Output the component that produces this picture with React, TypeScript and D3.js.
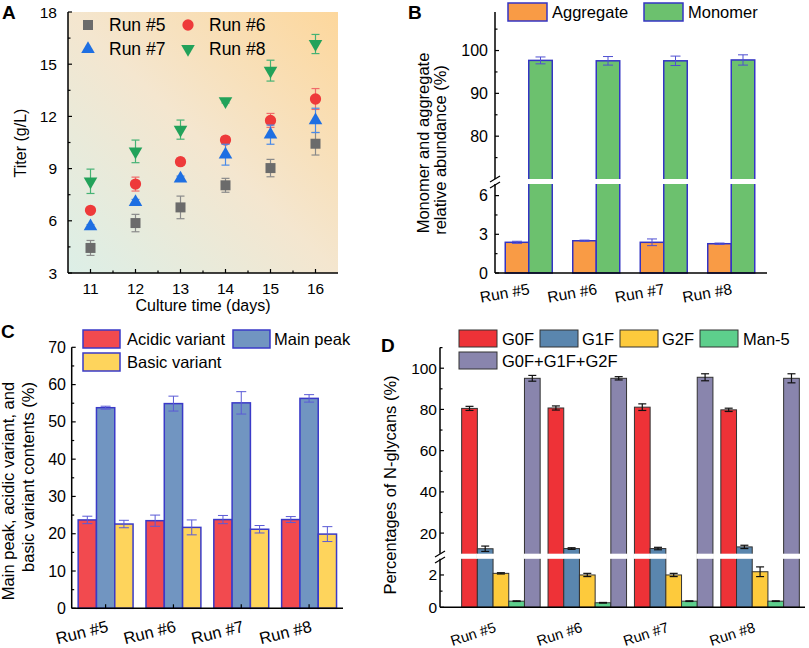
import React from 'react';
import * as d3 from 'd3';

// ---------- Panel A data ----------
const days = [11, 12, 13, 14, 15, 16];
const titerRun5 = [4.44, 5.87, 6.77, 8.04, 9.03, 10.43];
const titerRun5Err = [0.43, 0.5, 0.65, 0.4, 0.5, 0.65];
const titerRun6 = [6.6, 8.11, 9.4, 10.64, 11.77, 13.0];
const titerRun6Err = [0.1, 0.4, 0.2, 0.2, 0.4, 0.6];
const titerRun7 = [5.68, 7.08, 8.42, 9.8, 10.95, 11.77];
const titerRun7Err = [0.1, 0.15, 0.15, 0.6, 0.55, 0.7];
const titerRun8 = [8.27, 9.99, 11.24, 12.87, 14.63, 16.16];
const titerRun8Err = [0.7, 0.65, 0.55, 0.1, 0.6, 0.55];
const titerTicks = [3, 6, 9, 12, 15, 18];

// ---------- Panel B data ----------
const runs = ['Run #5', 'Run #6', 'Run #7', 'Run #8'];
const aggregate = [2.38, 2.5, 2.38, 2.27];
const aggregateErr = [0.08, 0.05, 0.26, 0.05];
const monomer = [97.7, 97.6, 97.6, 97.8];
const monomerErr = [0.8, 1.0, 1.1, 1.2];
const bUpperTicks = [80, 90, 100];
const bLowerTicks = [0, 3, 6];

// ---------- Panel C data ----------
const acidic = [23.7, 23.5, 23.8, 23.8];
const acidicErr = [1.0, 1.5, 1.1, 0.8];
const mainPeak = [53.8, 54.9, 55.1, 56.3];
const mainPeakErr = [0.4, 2.0, 3.0, 1.0];
const basic = [22.6, 21.7, 21.2, 19.9];
const basicErr = [1.0, 2.0, 1.0, 2.0];
const cTicks = [0, 10, 20, 30, 40, 50, 60, 70];

// ---------- Panel D data ----------
const g0f = [80.5, 80.7, 81.1, 79.8];
const g0fErr = [1.0, 1.0, 1.6, 0.8];
const g1f = [12.4, 12.5, 12.5, 13.3];
const g1fErr = [1.3, 0.4, 0.6, 0.8];
const g2f = [2.1, 2.0, 2.0, 2.2];
const g2fErr = [0.04, 0.1, 0.1, 0.3];
const man5 = [0.38, 0.28, 0.38, 0.38];
const man5Err = [0.02, 0.02, 0.02, 0.02];
const glycanSum = [95.1, 95.1, 95.6, 95.1];
const glycanSumErr = [1.4, 0.8, 1.7, 2.2];
const dUpperTicks = [20, 40, 60, 80, 100];
const dLowerTicks = [0, 2];

const FONT = "'Liberation Sans', Arial, Helvetica, sans-serif";

type EBProps = { x: number; yTop: number; yBot: number; w: number; color: string; sw?: number };
const ErrBar = ({ x, yTop, yBot, w, color, sw = 1 }: EBProps) => (
  <g stroke={color} strokeWidth={sw} fill="none">
    <line x1={x} x2={x} y1={yTop} y2={yBot} />
    <line x1={x - w / 2} x2={x + w / 2} y1={yTop} y2={yTop} />
    <line x1={x - w / 2} x2={x + w / 2} y1={yBot} y2={yBot} />
  </g>
);

// ================= PANEL A =================
function PanelA() {
  const x = d3.scaleLinear().domain([10.5, 16.5]).range([68, 338]);
  const y = d3.scaleLinear().domain([3, 18]).range([273, 12]);
  const series = [
    { name: 'Run #5', v: titerRun5, e: titerRun5Err, color: '#6b6b6b', ec: '#8a8a8a', sym: d3.symbolSquare, size: 100, rot: 0 },
    { name: 'Run #6', v: titerRun6, e: titerRun6Err, color: '#ee3a3a', ec: '#f06a6a', sym: d3.symbolCircle, size: 100, rot: 0 },
    { name: 'Run #7', v: titerRun7, e: titerRun7Err, color: '#1e6fe2', ec: '#4a8ae8', sym: d3.symbolTriangle, size: 80, rot: 0 },
    { name: 'Run #8', v: titerRun8, e: titerRun8Err, color: '#22a25a', ec: '#45b274', sym: d3.symbolTriangle, size: 80, rot: 180 },
  ];
  const minorY = d3.range(4.5, 18, 3);
  const minorX = d3.range(11.5, 16.5, 1);
  const legendPos = [
    [88, 25],
    [188, 25],
    [88, 49],
    [188, 49],
  ];
  return (
    <g>
      <defs>
        <linearGradient id="bgA" x1="0" y1="1" x2="1" y2="0">
          <stop offset="0" stopColor="#dcefe7" />
          <stop offset="0.5" stopColor="#f4e6cf" />
          <stop offset="1" stopColor="#fdd79c" />
        </linearGradient>
      </defs>
      <rect x={x(10.5)} y={y(18)} width={x(16.5) - x(10.5)} height={y(3) - y(18)} fill="url(#bgA)" />
      {/* axes */}
      <line x1={x(10.5)} x2={x(10.5)} y1={y(18)} y2={y(3)} stroke="#000" strokeWidth={1.5} />
      <line x1={x(10.5)} x2={x(16.5)} y1={y(3)} y2={y(3)} stroke="#000" strokeWidth={1.5} />
      {titerTicks.map((t) => (
        <g key={t}>
          <line x1={x(10.5)} x2={x(10.5) + 4} y1={y(t)} y2={y(t)} stroke="#000" strokeWidth={1.2} />
          <text x={57} y={y(t) + 5.5} textAnchor="end" fontSize={15.5} fontFamily={FONT}>{t}</text>
        </g>
      ))}
      {minorY.map((t) => (
        <line key={t} x1={x(10.5)} x2={x(10.5) + 2.5} y1={y(t)} y2={y(t)} stroke="#000" strokeWidth={1.2} />
      ))}
      {days.map((d) => (
        <g key={d}>
          <line x1={x(d)} x2={x(d)} y1={y(3)} y2={y(3) - 4} stroke="#000" strokeWidth={1.2} />
          <text x={x(d)} y={294} textAnchor="middle" fontSize={15.5} fontFamily={FONT}>{d}</text>
        </g>
      ))}
      {minorX.map((d) => (
        <line key={d} x1={x(d)} x2={x(d)} y1={y(3)} y2={y(3) - 2.5} stroke="#000" strokeWidth={1.2} />
      ))}
      <text x={203} y={311} textAnchor="middle" fontSize={16} fontFamily={FONT}>Culture time (days)</text>
      <text transform={`translate(26,143) rotate(-90)`} textAnchor="middle" fontSize={16} fontFamily={FONT}>Titer (g/L)</text>
      {/* data */}
      {series.map((s) => (
        <g key={s.name}>
          {days.map((d, i) => (
            <ErrBar key={d} x={x(d)} yTop={y(s.v[i] + s.e[i])} yBot={y(s.v[i] - s.e[i])} w={8} color={s.ec} sw={1.2} />
          ))}
          {days.map((d, i) => (
            <path key={d} d={d3.symbol().type(s.sym).size(s.size)() || ''} transform={`translate(${x(d)},${y(s.v[i])}) rotate(${s.rot})`} fill={s.color} />
          ))}
        </g>
      ))}
      {/* legend */}
      {series.map((s, i) => (
        <g key={s.name}>
          <path d={d3.symbol().type(s.sym).size(s.size)() || ''} transform={`translate(${legendPos[i][0]},${legendPos[i][1]}) rotate(${s.rot})`} fill={s.color} />
          <text x={legendPos[i][0] + 21} y={legendPos[i][1] + 6} fontSize={17.5} fontFamily={FONT}>{s.name}</text>
        </g>
      ))}
      <text x={2} y={19} fontSize={19} fontWeight="bold" fontFamily={FONT}>A</text>
    </g>
  );
}

// ================= PANEL B =================
function PanelB() {
  const left = 495;
  const bottom = 273;
  const x = d3.scaleBand<string>().domain(runs).range([495, 765]);
  const lower = d3.scaleLinear().domain([0, 6.9]).range([273, 184]);
  const upper = d3.scaleLinear().domain([70, 109]).range([179, 12]);
  const yv = (v: number) => (v <= 6.9 ? lower(v) : upper(v));
  const bw = 23.5;
  const stroke = '#3434c4';
  const ec = '#4f4fd2';
  const series = [
    { name: 'Aggregate', v: aggregate, e: aggregateErr, fill: '#f99b45', off: -bw },
    { name: 'Monomer', v: monomer, e: monomerErr, fill: '#6cc16e', off: 0 },
  ];
  return (
    <g>
      {series.map((s) => (
        <g key={s.name}>
          {runs.map((r, i) => {
            const cx = (x(r) as number) + x.bandwidth() / 2;
            const bx = cx + s.off;
            const top = yv(s.v[i]);
            return (
              <g key={r}>
                <rect x={bx} y={top} width={bw} height={bottom - top} fill={s.fill} stroke={stroke} strokeWidth={1.5} />
                {s.v[i] > 6.9 && <rect x={bx - 1.5} y={179} width={bw + 3} height={5} fill="#fff" />}
                <ErrBar x={bx + bw / 2} yTop={yv(s.v[i] + s.e[i])} yBot={yv(s.v[i] - s.e[i])} w={10} color={ec} sw={1} />
              </g>
            );
          })}
        </g>
      ))}
      {/* axes */}
      <line x1={left} x2={left} y1={12} y2={179} stroke="#000" strokeWidth={1.5} />
      <line x1={left} x2={left} y1={184} y2={bottom} stroke="#000" strokeWidth={1.5} />
      <line x1={490} x2={500} y1={182} y2={176} stroke="#000" strokeWidth={1.3} />
      <line x1={490} x2={500} y1={188} y2={182} stroke="#000" strokeWidth={1.3} />
      <line x1={left} x2={767} y1={bottom} y2={bottom} stroke="#000" strokeWidth={1.5} />
      {bUpperTicks.map((t) => (
        <g key={t}>
          <line x1={left} x2={left + 4} y1={upper(t)} y2={upper(t)} stroke="#000" strokeWidth={1.2} />
          <text x={488} y={upper(t) + 5.5} textAnchor="end" fontSize={16} fontFamily={FONT}>{t}</text>
        </g>
      ))}
      {[75, 85, 95, 105].map((t) => (
        <line key={t} x1={left} x2={left + 2.5} y1={upper(t)} y2={upper(t)} stroke="#000" strokeWidth={1.2} />
      ))}
      {bLowerTicks.map((t) => (
        <g key={t}>
          <line x1={left} x2={left + 4} y1={lower(t)} y2={lower(t)} stroke="#000" strokeWidth={1.2} />
          <text x={488} y={lower(t) + 5.5} textAnchor="end" fontSize={16} fontFamily={FONT}>{t}</text>
        </g>
      ))}
      {[1.5, 4.5].map((t) => (
        <line key={t} x1={left} x2={left + 2.5} y1={lower(t)} y2={lower(t)} stroke="#000" strokeWidth={1.2} />
      ))}
      {runs.map((r) => {
        const cx = (x(r) as number) + x.bandwidth() / 2;
        return (
          <text key={r} transform={`translate(${cx + 1.5},${294}) rotate(-10)`} textAnchor="end" fontSize={15.5} fontFamily={FONT}>{r}</text>
        );
      })}
      <text transform={`translate(429,143) rotate(-90)`} textAnchor="middle" fontSize={16.5} fontFamily={FONT}>Monomer and aggregate</text>
      <text transform={`translate(446,150) rotate(-90)`} textAnchor="middle" fontSize={16.5} fontFamily={FONT}>relative abundance (%)</text>
      {/* legend */}
      <rect x={508} y={3} width={39} height={18} fill="#f99b45" stroke={stroke} strokeWidth={1.5} />
      <text x={552} y={18} fontSize={16.5} fontFamily={FONT}>Aggregate</text>
      <rect x={644} y={3} width={39} height={18} fill="#6cc16e" stroke={stroke} strokeWidth={1.5} />
      <text x={688} y={18} fontSize={16.5} fontFamily={FONT}>Monomer</text>
      <text x={408} y={19} fontSize={19} fontWeight="bold" fontFamily={FONT}>B</text>
    </g>
  );
}

// ================= PANEL C =================
function PanelC() {
  const left = 71.7;
  const x = d3.scaleBand<string>().domain(runs).range([71.7, 343]);
  const y = d3.scaleLinear().domain([0, 70]).range([608.3, 347.3]);
  const bottom = y(0);
  const bw = 18.3;
  const stroke = '#3a3ac8';
  const ec = '#5a5ad6';
  const series = [
    { name: 'Acidic variant', v: acidic, e: acidicErr, fill: '#f24a4f', off: -1.5 * bw },
    { name: 'Main peak', v: mainPeak, e: mainPeakErr, fill: '#7195c1', off: -0.5 * bw },
    { name: 'Basic variant', v: basic, e: basicErr, fill: '#fed45c', off: 0.5 * bw },
  ];
  return (
    <g>
      {series.map((s) => (
        <g key={s.name}>
          {runs.map((r, i) => {
            const cx = (x(r) as number) + x.bandwidth() / 2;
            const bx = cx + s.off;
            const top = y(s.v[i]);
            return (
              <g key={r}>
                <rect x={bx} y={top} width={bw} height={bottom - top} fill={s.fill} stroke={stroke} strokeWidth={1.5} />
                <ErrBar x={bx + bw / 2} yTop={y(s.v[i] + s.e[i])} yBot={y(s.v[i] - s.e[i])} w={10} color={ec} sw={1} />
              </g>
            );
          })}
        </g>
      ))}
      <line x1={left} x2={left} y1={y(70)} y2={bottom} stroke="#000" strokeWidth={1.5} />
      <line x1={left} x2={343} y1={bottom} y2={bottom} stroke="#000" strokeWidth={1.5} />
      {cTicks.map((t) => (
        <g key={t}>
          <line x1={left} x2={left + 4} y1={y(t)} y2={y(t)} stroke="#000" strokeWidth={1.2} />
          <text x={66} y={y(t) + 5.5} textAnchor="end" fontSize={16} fontFamily={FONT}>{t}</text>
        </g>
      ))}
      {d3.range(5, 70, 10).map((t) => (
        <line key={t} x1={left} x2={left + 2.5} y1={y(t)} y2={y(t)} stroke="#000" strokeWidth={1.2} />
      ))}
      {runs.map((r) => {
        const cx = (x(r) as number) + x.bandwidth() / 2;
        return (
          <g key={r}>
            <line x1={cx} x2={cx} y1={bottom} y2={bottom - 4} stroke="#000" strokeWidth={1.2} />
            <text transform={`translate(${cx + 3.5},${631.5}) rotate(-14)`} textAnchor="end" fontSize={16.5} fontFamily={FONT}>{r}</text>
          </g>
        );
      })}
      <text transform={`translate(14,491) rotate(-90)`} textAnchor="middle" fontSize={16.5} fontFamily={FONT}>Main peak, acidic variant, and</text>
      <text transform={`translate(34,477) rotate(-90)`} textAnchor="middle" fontSize={16.5} fontFamily={FONT}>basic variant contents (%)</text>
      {/* legend */}
      <rect x={83} y={330} width={37} height={18} fill="#f24a4f" stroke={stroke} strokeWidth={1.5} />
      <text x={127} y={345} fontSize={16.5} fontFamily={FONT}>Acidic variant</text>
      <rect x={233} y={330} width={37} height={18} fill="#7195c1" stroke={stroke} strokeWidth={1.5} />
      <text x={274} y={345} fontSize={16.5} fontFamily={FONT}>Main peak</text>
      <rect x={83} y={353} width={37} height={18} fill="#fed45c" stroke={stroke} strokeWidth={1.5} />
      <text x={127} y={368} fontSize={16.5} fontFamily={FONT}>Basic variant</text>
      <text x={1} y={338} fontSize={19} fontWeight="bold" fontFamily={FONT}>C</text>
    </g>
  );
}

// ================= PANEL D =================
function PanelD() {
  const left = 440;
  const x = d3.scaleLinear().domain([0.295, 4.52]).range([440, 805]);
  const lower = d3.scaleLinear().domain([0, 3]).range([607.3, 558.8]);
  const upper = d3.scaleLinear().domain([10, 110]).range([553.7, 347.6]);
  const yv = (v: number) => (v <= 3 ? lower(v) : upper(v));
  const bottom = lower(0);
  const bw = 15.7;
  const series = [
    { name: 'G0F', v: g0f, e: g0fErr, fill: '#ee3237' },
    { name: 'G1F', v: g1f, e: g1fErr, fill: '#5a86ae' },
    { name: 'G2F', v: g2f, e: g2fErr, fill: '#fdca3c' },
    { name: 'Man-5', v: man5, e: man5Err, fill: '#5dcf8c' },
    { name: 'G0F+G1F+G2F', v: glycanSum, e: glycanSumErr, fill: '#8985ad' },
  ];
  const legendPos = [
    [459, 330, 502],
    [540, 330, 582],
    [620, 330, 662],
    [700, 330, 743],
    [459, 352, 502],
  ];
  return (
    <g>
      {series.map((s, k) => (
        <g key={s.name}>
          {runs.map((r, i) => {
            const cx = x(i + 1);
            const bx = cx + (k - 2.5) * bw;
            const top = yv(s.v[i]);
            return (
              <g key={r}>
                <rect x={bx} y={top} width={bw} height={bottom - top} fill={s.fill} stroke="#333" strokeWidth={1} />
                {s.v[i] > 3 && <rect x={bx - 1} y={553.7} width={bw + 2} height={558.8 - 553.7} fill="#fff" />}
                <ErrBar x={bx + bw / 2} yTop={yv(s.v[i] + s.e[i])} yBot={yv(s.v[i] - s.e[i])} w={8} color="#111" sw={1.2} />
              </g>
            );
          })}
        </g>
      ))}
      <line x1={left} x2={left} y1={347.6} y2={553.7} stroke="#000" strokeWidth={1.5} />
      <line x1={left} x2={left} y1={558.8} y2={bottom} stroke="#000" strokeWidth={1.5} />
      <line x1={435} x2={445} y1={557} y2={551} stroke="#000" strokeWidth={1.3} />
      <line x1={435} x2={445} y1={563} y2={557} stroke="#000" strokeWidth={1.3} />
      <line x1={left} x2={805} y1={bottom} y2={bottom} stroke="#000" strokeWidth={1.5} />
      {dUpperTicks.map((t) => (
        <g key={t}>
          <line x1={left} x2={left + 4} y1={upper(t)} y2={upper(t)} stroke="#000" strokeWidth={1.2} />
          <text x={437} y={upper(t) + 5.5} textAnchor="end" fontSize={15.5} fontFamily={FONT}>{t}</text>
        </g>
      ))}
      {[30, 50, 70, 90, 110].map((t) => (
        <line key={t} x1={left} x2={left + 2.5} y1={upper(t)} y2={upper(t)} stroke="#000" strokeWidth={1.2} />
      ))}
      {dLowerTicks.map((t) => (
        <g key={t}>
          <line x1={left} x2={left + 4} y1={lower(t)} y2={lower(t)} stroke="#000" strokeWidth={1.2} />
          <text x={437} y={lower(t) + 5.5} textAnchor="end" fontSize={15.5} fontFamily={FONT}>{t}</text>
        </g>
      ))}
      <line x1={left} x2={left + 2.5} y1={lower(1)} y2={lower(1)} stroke="#000" strokeWidth={1.2} />
      {runs.map((r, i) => (
        <text key={r} transform={`translate(${x(i + 1) - 4},${631.5}) rotate(-18)`} textAnchor="end" fontSize={14.5} fontFamily={FONT}>{r}</text>
      ))}
      <text transform={`translate(396,485) rotate(-90)`} textAnchor="middle" fontSize={16.5} fontFamily={FONT}>Percentages of N-glycans (%)</text>
      {series.map((s, k) => (
        <g key={s.name}>
          <rect x={legendPos[k][0]} y={legendPos[k][1]} width={38} height={17} fill={s.fill} stroke="#333" strokeWidth={1} />
          <text x={legendPos[k][2]} y={legendPos[k][1] + 15} fontSize={16.5} fontFamily={FONT}>{s.name}</text>
        </g>
      ))}
      <text x={381} y={352} fontSize={19} fontWeight="bold" fontFamily={FONT}>D</text>
    </g>
  );
}

export default function App() {
  return (
    <svg width={809} height={648} viewBox="0 0 809 648" style={{ position: 'absolute', left: 0, top: 0, background: '#fff' }}>
      <rect width={809} height={648} fill="#fff" />
      <PanelA />
      <PanelB />
      <PanelC />
      <PanelD />
    </svg>
  );
}
